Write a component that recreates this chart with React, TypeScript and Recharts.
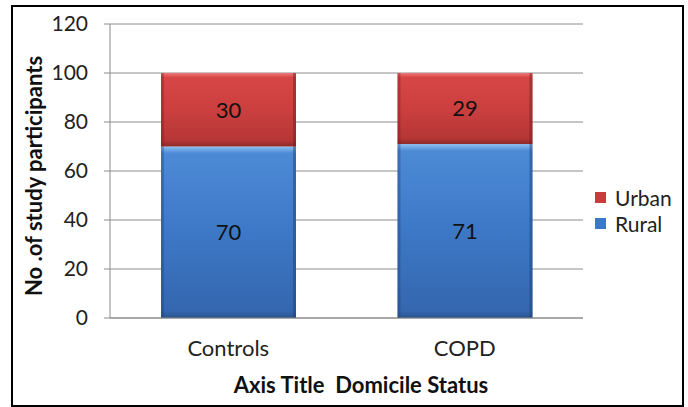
import { BarChart, Bar, XAxis, YAxis, CartesianGrid, LabelList } from 'recharts';

// Domicile status of participants.
const groups = ['Controls', 'COPD'];
const rural = [70, 71];
const urban = [30, 29];
const yTicks = [0, 20, 40, 60, 80, 100, 120];

const data = groups.map((g, i) => ({ group: g, Rural: rural[i], Urban: urban[i] }));

const FONT = 'Lato, "Open Sans", sans-serif';
const GRID = '#8c8c8c';

// Excel-style bevelled bar: vertical gradient plus darker side edges.
function BevelBar(props: any) {
  const { x, y, width, height, gradId, edge } = props;
  if (height <= 0) return null;
  return (
    <g>
      <rect x={x} y={y} width={width} height={height} fill={`url(#${gradId})`} />
      <rect x={x} y={y} width={3} height={height} fill={edge} opacity={0.35} />
      <rect x={x + width - 3} y={y} width={3} height={height} fill={edge} opacity={0.45} />
    </g>
  );
}

function LegendBox() {
  const items = [
    { name: 'Urban', color: '#c83c3c' },
    { name: 'Rural', color: '#3c78c8' },
  ];
  return (
    <div style={{ position: 'absolute', left: 595, top: 184, fontFamily: FONT, fontSize: 21, color: '#222' }}>
      {items.map((it) => (
        <div key={it.name} style={{ display: 'flex', alignItems: 'center', height: 26 }}>
          <span style={{ width: 11, height: 11, background: it.color, marginRight: 9, display: 'inline-block' }} />
          {it.name}
        </div>
      ))}
    </div>
  );
}

export default function App() {
  return (
    <div style={{ position: 'absolute', left: 0, top: 0, width: 688, height: 407, background: '#fff' }}>
      <BarChart
        width={688}
        height={407}
        data={data}
        margin={{ top: 24, right: 105, bottom: 0, left: 0 }}
        barSize={135}
        style={{ position: 'absolute', left: 0, top: 0 }}
      >
        <defs>
          <linearGradient id="gRural" x1="0" y1="0" x2="0" y2="1">
            <stop offset="0%" stopColor="#8cc0f2" />
            <stop offset="4%" stopColor="#4d8ad6" />
            <stop offset="50%" stopColor="#3d78c6" />
            <stop offset="96%" stopColor="#3467ae" />
            <stop offset="100%" stopColor="#2a538e" />
          </linearGradient>
          <linearGradient id="gUrban" x1="0" y1="0" x2="0" y2="1">
            <stop offset="0%" stopColor="#f07a7a" />
            <stop offset="6%" stopColor="#d64646" />
            <stop offset="50%" stopColor="#cc3f3f" />
            <stop offset="92%" stopColor="#b53636" />
            <stop offset="100%" stopColor="#8e2a2a" />
          </linearGradient>
        </defs>
        <CartesianGrid vertical={false} stroke={GRID} />
        <XAxis
          dataKey="group"
          height={89}
          tickLine={false}
          tickSize={0}
          tickMargin={22}
          axisLine={{ stroke: GRID }}
          tick={{ fontFamily: FONT, fontSize: 22, fill: '#222' }}
        />
        <YAxis
          domain={[0, 120]}
          ticks={yTicks}
          width={110}
          tickSize={6}
          tickMargin={16}
          tickLine={{ stroke: GRID }}
          axisLine={{ stroke: GRID }}
          tick={{ fontFamily: FONT, fontSize: 21, fill: '#222' }}
          interval={0}
        />
        <Bar
          dataKey="Rural"
          stackId="a"
          isAnimationActive={false}
          shape={(p: any) => <BevelBar {...p} gradId="gRural" edge="#1d3e6e" />}
        >
          <LabelList dataKey="Rural" position="center" fill="#111" fontSize={22} fontFamily={FONT} />
        </Bar>
        <Bar
          dataKey="Urban"
          stackId="a"
          isAnimationActive={false}
          shape={(p: any) => <BevelBar {...p} gradId="gUrban" edge="#6e1d1d" />}
        >
          <LabelList dataKey="Urban" position="center" fill="#111" fontSize={22} fontFamily={FONT} />
        </Bar>
      </BarChart>
      <LegendBox />
      <div
        style={{
          position: 'absolute', left: 11, top: 5, width: 673, height: 402,
          border: '2px solid #000', boxSizing: 'border-box', pointerEvents: 'none',
        }}
      />
      <div
        style={{
          position: 'absolute', left: 33, top: 176, transform: 'translate(-50%, -50%) rotate(-90deg)',
          fontFamily: FONT, fontWeight: 700, fontSize: 22, whiteSpace: 'nowrap', color: '#111',
        }}
      >
        No .of study participants
      </div>
      <div
        style={{
          position: 'absolute', left: 361, top: 384, transform: 'translate(-50%, -50%)',
          fontFamily: FONT, fontWeight: 700, fontSize: 22, whiteSpace: 'nowrap', color: '#111',
        }}
      >
        Axis Title&nbsp; Domicile Status
      </div>
    </div>
  );
}
